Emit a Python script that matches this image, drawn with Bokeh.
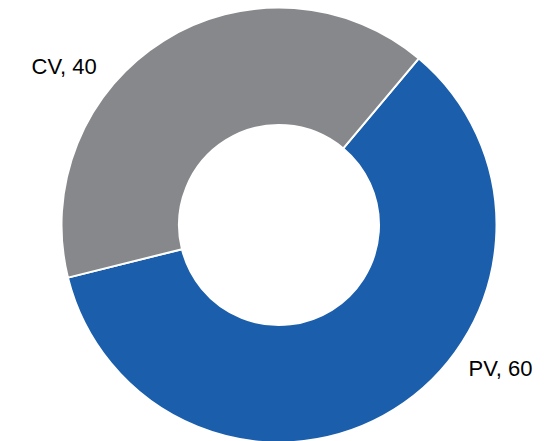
import math
from bokeh.plotting import figure
from bokeh.models import Range1d, ColumnDataSource
from bokeh.core.properties import value
from bokeh.embed import file_html
from bokeh.resources import INLINE

# data
categories = ["PV", "CV"]
values = [60, 40]
colors = ["#1B5EAB", "#87888B"]
labels = ["PV, 60", "CV, 40"]

W, H = 557, 441
p = figure(width=W, height=H, output_backend="svg", toolbar_location=None,
           x_range=Range1d(0, W), y_range=Range1d(0, H), min_border=0)
p.axis.visible = False
p.grid.visible = False
p.outline_line_color = None
p.background_fill_color = "white"
p.border_fill_color = "white"

cx, cy = 278.5, H - 224.5
r_out, r_in = 217.5, 100.0

total = sum(values)
start = math.radians(50)
starts, ends = [], []
a = start
for v in values:
    starts.append(a)
    a -= 2 * math.pi * v / total
    ends.append(a)

src = ColumnDataSource(dict(cat=categories, val=values, color=colors,
                            start=starts, end=ends))
p.annular_wedge(x=cx, y=cy, inner_radius=r_in, outer_radius=r_out,
                start_angle="start", end_angle="end", direction="clock",
                fill_color="color", line_color="white", line_width=2,
                source=src)

lab = ColumnDataSource(dict(x=[468, 31], y=[H - 368, H - 66], text=labels))
p.text(x="x", y="y", text="text", source=lab, text_align="left",
       text_baseline="middle", text_font=value("Liberation Sans"),
       text_font_size="22px", text_color="black")

open("out.html", "w").write(file_html(p, INLINE))
